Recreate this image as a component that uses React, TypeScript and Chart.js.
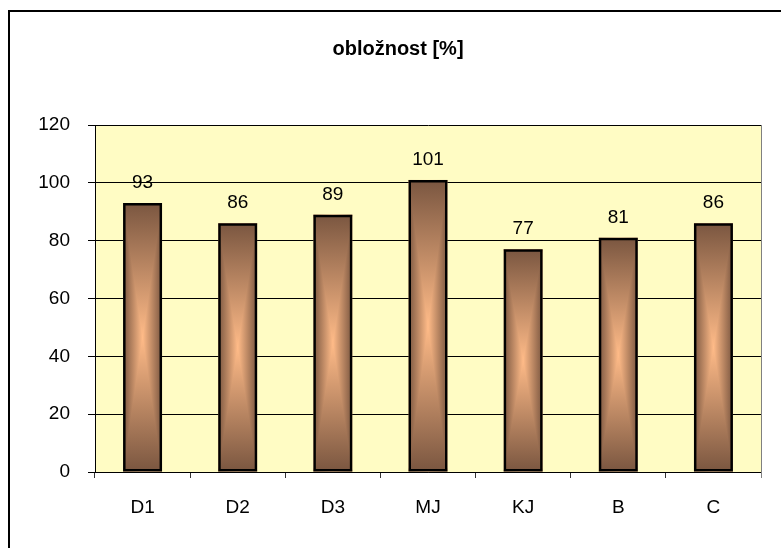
import React, { useEffect, useRef } from "react";
import { Chart, registerables } from "chart.js";

Chart.register(...registerables);

const titleText = "obložnost [%]";
const categories = ["D1", "D2", "D3", "MJ", "KJ", "B", "C"];
const values = [93, 86, 89, 101, 77, 81, 86];
const yMin = 0;
const yMax = 120;
const yStep = 20;

const FONT = "'Liberation Sans', Arial, sans-serif";
const DARK = "#7a5640";
const LIGHT = "#ffbb88";

const decorPlugin = {
  id: "decor",
  beforeDraw(chart: any) {
    const { ctx, chartArea } = chart;
    ctx.save();
    ctx.fillStyle = "#ffffff";
    ctx.fillRect(0, 0, chart.width, chart.height);
    ctx.fillStyle = "#fffcc4";
    ctx.fillRect(chartArea.left, chartArea.top, chartArea.right - chartArea.left, chartArea.bottom - chartArea.top);
    ctx.strokeStyle = "#000";
    ctx.lineWidth = 2;
    ctx.beginPath();
    ctx.moveTo(9, chart.height + 5);
    ctx.lineTo(9, 11);
    ctx.lineTo(chart.width + 5, 11);
    ctx.stroke();
    ctx.fillStyle = "#000";
    ctx.font = `bold 20px ${FONT}`;
    ctx.textAlign = "center";
    ctx.textBaseline = "alphabetic";
    ctx.fillText(titleText, 398, 55);
    ctx.restore();
  },
  beforeDatasetsDraw(chart: any) {
    const { ctx } = chart;
    const meta = chart.getDatasetMeta(0);
    ctx.save();
    meta.data.forEach((bar: any) => {
      const l = bar.x - bar.width / 2;
      const r = bar.x + bar.width / 2;
      const t = Math.min(bar.y, bar.base);
      const b = Math.max(bar.y, bar.base);
      const cx = (l + r) / 2;
      const cy = (t + b) / 2;
      // horizontal gradient for whole bar
      const gh = ctx.createLinearGradient(l, 0, r, 0);
      gh.addColorStop(0, DARK);
      gh.addColorStop(0.5, LIGHT);
      gh.addColorStop(1, DARK);
      ctx.fillStyle = gh;
      ctx.fillRect(l, t, r - l, b - t);
      // top and bottom triangles with vertical gradient
      const gv = ctx.createLinearGradient(0, t, 0, b);
      gv.addColorStop(0, DARK);
      gv.addColorStop(0.5, LIGHT);
      gv.addColorStop(1, DARK);
      ctx.fillStyle = gv;
      ctx.beginPath();
      ctx.moveTo(l, t);
      ctx.lineTo(r, t);
      ctx.lineTo(cx, cy);
      ctx.closePath();
      ctx.fill();
      ctx.beginPath();
      ctx.moveTo(l, b);
      ctx.lineTo(r, b);
      ctx.lineTo(cx, cy);
      ctx.closePath();
      ctx.fill();
    });
    ctx.restore();
  },
  afterDatasetsDraw(chart: any) {
    const { ctx, chartArea } = chart;
    const meta = chart.getDatasetMeta(0);
    ctx.save();
    ctx.fillStyle = "#000";
    ctx.font = `19px ${FONT}`;
    ctx.textAlign = "center";
    ctx.textBaseline = "alphabetic";
    meta.data.forEach((bar: any, i: number) => {
      ctx.fillText(String(values[i]), bar.x, bar.y - 15);
    });
    ctx.strokeStyle = "#808080";
    ctx.lineWidth = 1;
    ctx.beginPath();
    ctx.moveTo(Math.round(chartArea.right) + 0.5, chartArea.top);
    ctx.lineTo(Math.round(chartArea.right) + 0.5, chartArea.bottom + 6);
    ctx.stroke();
    ctx.restore();
  },
};

export default function App() {
  const ref = useRef<HTMLCanvasElement | null>(null);
  useEffect(() => {
    if (!ref.current) return;
    const chart = new Chart(ref.current, {
      type: "bar",
      data: {
        labels: categories,
        datasets: [
          {
            data: values,
            backgroundColor: "rgba(0,0,0,0)",
            borderColor: "#000",
            borderWidth: 2.5,
            borderSkipped: false,
            categoryPercentage: 1,
            barPercentage: 0.41,
          },
        ],
      },
      options: {
        responsive: false,
        animation: false,
        devicePixelRatio: 1,
        layout: { padding: { left: 0, top: 125, right: 20, bottom: 0 } },
        plugins: {
          legend: { display: false },
          title: { display: false },
          tooltip: { enabled: false },
        },
        scales: {
          x: {
            offset: true,
            grid: {
              offset: true,
              drawOnChartArea: false,
              drawTicks: true,
              tickLength: 6,
              color: "#333",
            },
            border: { color: "#000", width: 1 },
            ticks: {
              color: "#000",
              padding: 18,
              maxRotation: 0,
              font: { family: FONT, size: 19 },
            },
            afterFit(scale: any) {
              scale.height = 76;
            },
          },
          y: {
            min: yMin,
            max: yMax,
            grid: { color: "#000", tickLength: 7, drawTicks: true },
            border: { color: "#000", width: 1 },
            ticks: {
              stepSize: yStep,
              color: "#000",
              padding: 18,
              font: { family: FONT, size: 19 },
            },
            afterFit(scale: any) {
              scale.width = 95;
            },
          },
        },
      },
      plugins: [decorPlugin],
    });
    return () => chart.destroy();
  }, []);
  return (
    <div style={{ position: "fixed", left: 0, top: 0, width: 781, height: 548 }}>
      <canvas ref={ref} width={781} height={548} />
    </div>
  );
}
